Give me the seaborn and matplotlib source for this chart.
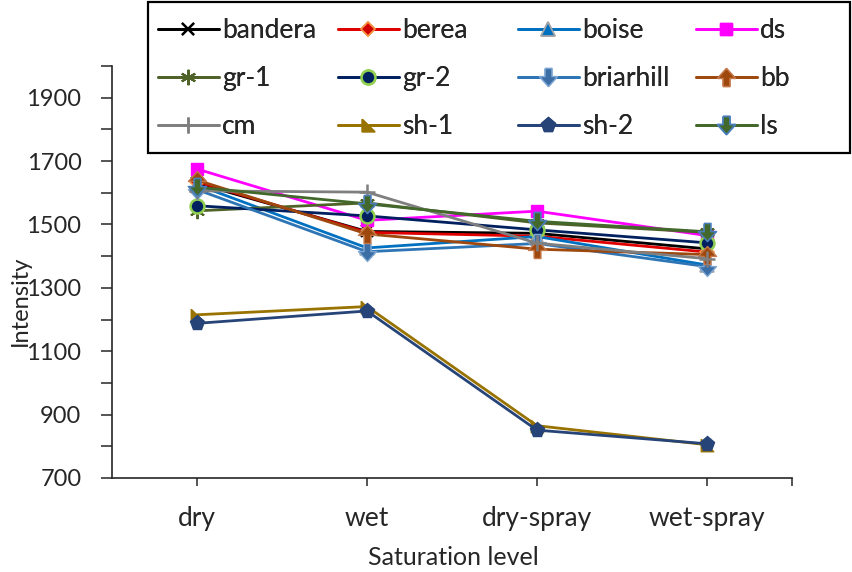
import numpy as np
import pandas as pd
import matplotlib
matplotlib.use("Agg")
import matplotlib.pyplot as plt
from matplotlib.path import Path
from matplotlib.patches import Rectangle
import seaborn as sns

# Saturation levels and measured intensity per rock sample
levels = ["dry", "wet", "dry-spray", "wet-spray"]
bandera = [1630, 1478, 1472, 1423]
berea = [1635, 1475, 1463, 1413]
boise = [1625, 1426, 1462, 1372]
ds = [1675, 1513, 1542, 1465]
gr_1 = [1543, 1568, 1505, 1475]
gr_2 = [1559, 1527, 1483, 1442]
briarhill = [1610, 1414, 1440, 1367]
bb = [1640, 1470, 1422, 1405]
cm = [1606, 1602, 1441, 1392]
sh_1 = [1215, 1241, 865, 805]
sh_2 = [1188, 1227, 851, 808]
ls = [1618, 1565, 1510, 1477]

names = ["bandera", "berea", "boise", "ds", "gr-1", "gr-2", "briarhill", "bb",
         "cm", "sh-1", "sh-2", "ls"]
values = [bandera, berea, boise, ds, gr_1, gr_2, briarhill, bb, cm, sh_1, sh_2, ls]

df = pd.DataFrame({
    "level": np.tile(levels, len(names)),
    "sample": np.repeat(names, len(levels)),
    "intensity": np.concatenate(values),
})

# custom marker shapes
down_arrow = Path([(-0.38, 1.0), (0.38, 1.0), (0.38, 0.1), (1.0, 0.1), (0.0, -1.0),
                   (-1.0, 0.1), (-0.38, 0.1), (-0.38, 1.0)])
up_arrow = Path([(-0.38, -1.0), (0.38, -1.0), (0.38, -0.1), (1.0, -0.1), (0.0, 1.0),
                 (-1.0, -0.1), (-0.38, -0.1), (-0.38, -1.0)])
corner_tri = Path([(-1.0, 1.0), (-1.0, -1.0), (1.0, -1.0), (-1.0, 1.0)])

styles = {
    "bandera":   dict(color="#000000", marker="x", mfc="#000000", mec="#000000", ms=8, mew=1.6),
    "berea":     dict(color="#E00000", marker="D", mfc="#D00000", mec="#F79646", ms=7, mew=1.2),
    "boise":     dict(color="#0070C0", marker="^", mfc="#0070C0", mec="#A5A5A5", ms=10, mew=1.2),
    "ds":        dict(color="#FF00FF", marker="s", mfc="#FF00FF", mec="#FF00FF", ms=9, mew=1.0),
    "gr-1":      dict(color="#4F6228", marker=(6, 2, 0), mfc="#4F6228", mec="#4F6228", ms=11, mew=1.4),
    "gr-2":      dict(color="#002060", marker="o", mfc="#002060", mec="#92D050", ms=10, mew=1.8),
    "briarhill": dict(color="#2E75B6", marker=down_arrow, mfc="#3A6EA5", mec="#7FA7D3", ms=13, mew=1.0),
    "bb":        dict(color="#9E480E", marker=up_arrow, mfc="#9E480E", mec="#C5794A", ms=13, mew=1.0),
    "cm":        dict(color="#7F7F7F", marker="+", mfc="#7F7F7F", mec="#7F7F7F", ms=11, mew=1.8),
    "sh-1":      dict(color="#997300", marker=corner_tri, mfc="#997300", mec="#997300", ms=9, mew=1.0),
    "sh-2":      dict(color="#264478", marker="p", mfc="#264478", mec="#264478", ms=11, mew=1.0),
    "ls":        dict(color="#43682B", marker=down_arrow, mfc="#43682B", mec="#4A7EBB", ms=13, mew=1.2),
}

sns.set_theme(style="white")
plt.rcParams["font.family"] = ["Lato", "DejaVu Sans"]

fig = plt.figure(figsize=(8.52, 5.72), dpi=100)
ax = fig.add_axes([112 / 852, 1 - 478 / 572, 680 / 852, 412 / 572])

handles = {}
for name in names:
    st = styles[name]
    sub = df[df["sample"] == name]
    sns.lineplot(data=sub, x="level", y="intensity", ax=ax, color=st["color"],
                 marker=st["marker"], markerfacecolor=st["mfc"], markeredgecolor=st["mec"],
                 markersize=st["ms"], markeredgewidth=st["mew"], linewidth=2.0,
                 label=name, legend=False, sort=False)
    handles[name] = ax.lines[-1]

ax.set_xlim(-0.5, 3.5)
ax.set_ylim(700, 2000)
ax.set_xticks([0, 1, 2, 3, 3.5])
ax.set_xticklabels(levels + [""])
yt = list(range(700, 2001, 100))
ax.set_yticks(yt)
ax.set_yticklabels([str(v) if (v - 700) % 200 == 0 else "" for v in yt])

for side in ("top", "right"):
    ax.spines[side].set_visible(False)
for side in ("left", "bottom"):
    ax.spines[side].set_color("#262626")
    ax.spines[side].set_linewidth(1.2)

ax.tick_params(axis="y", direction="out", length=8, width=1.1, color="#262626",
               labelsize=17, pad=14, left=True)
ax.tick_params(axis="x", direction="out", length=6, width=1.1, color="#262626",
               labelsize=19, pad=14, bottom=True)

ax.set_xlabel("Saturation level", fontsize=18)
ax.set_ylabel("Intensity", fontsize=17)
ax.xaxis.set_label_coords(0.5015, -0.165)
ax.yaxis.set_label_coords(-0.12, 0.43)

# legend: boxed, four evenly spaced columns, read row by row
fig.add_artist(Rectangle((148 / 852, 1 - 153 / 572), 702 / 852, 151 / 572,
                         transform=fig.transFigure, fill=False,
                         edgecolor="black", linewidth=1.6, zorder=5))
col_x = [158, 338, 518, 696]
for c in range(4):
    col_names = [names[r * 4 + c] for r in range(3)]
    lg = fig.legend([handles[n] for n in col_names], col_names, loc="upper left",
                    bbox_to_anchor=(col_x[c] / 852, 1 - 18 / 572), ncol=1,
                    fontsize=19, frameon=False, handlelength=2.3,
                    handletextpad=0.12, borderpad=0, labelspacing=0.88,
                    borderaxespad=0)
    fig.add_artist(lg)

fig.savefig("out.png", dpi=100)
